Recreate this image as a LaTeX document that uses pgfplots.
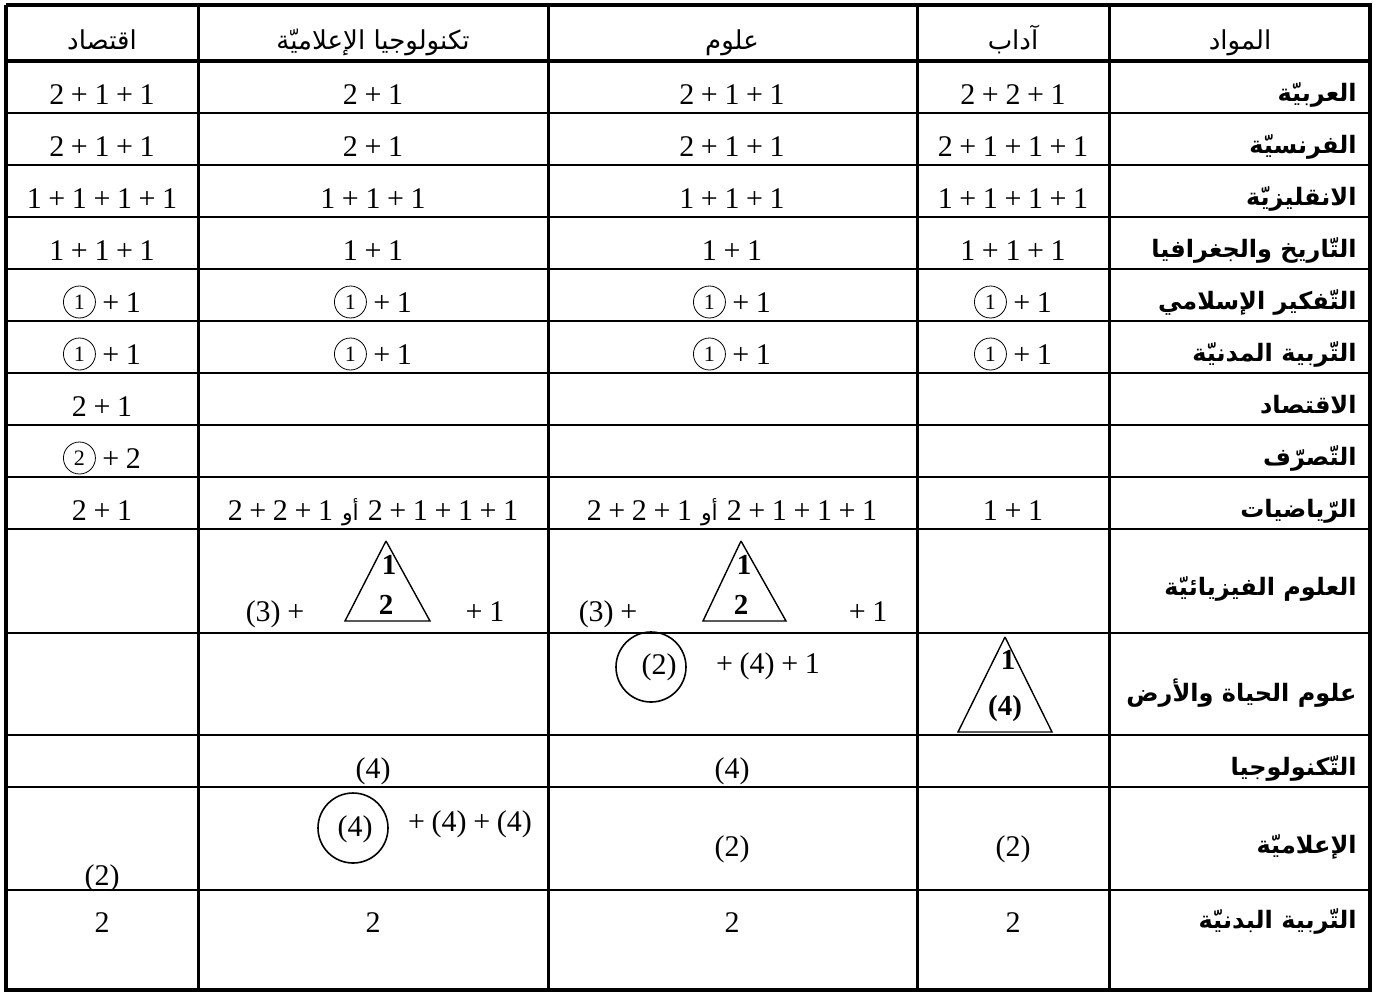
\documentclass[border=0pt]{standalone}
\usepackage{fontspec}
\usepackage{pgfplots}
\pgfplotsset{compat=1.18}
\setmainfont{Liberation Serif}
\newfontfamily\arabicfont[Script=Arabic]{DejaVu Sans}
\TeXXeTstate=1
\protected\def\p{\hspace{0.22em}+\hspace{0.22em}}
% small circled digit, drawn as in the reference (thin ring, thin figure)
\protected\def\circd#1{\tikz[baseline={([yshift=-5pt]c.center)}]\node[draw, circle, minimum size=16pt,
    inner sep=0pt, line width=0.4pt, font=\fontsize{11}{11}\selectfont](c){#1};}
\protected\def\ca{\circd{1}}
\protected\def\cb{\circd{2}}
\protected\def\ou{\hspace{0.3em}{\arabicfont\fontsize{11}{11}\selectfont\beginR أو\endR}\hspace{0.3em}}

\begin{document}
\begin{tikzpicture}
\begin{axis}[
    x=0.5pt, y=0.5pt, y dir=reverse,
    xmin=0, xmax=1381, ymin=0, ymax=997,
    hide axis, clip=false,
]
% page frame
\addplot[draw=none] coordinates {(0,0) (1381,997)};

% inner horizontal rules
\addplot[black, line width=1pt, unbounded coords=jump] coordinates {
    (6,113)(1370,113) (nan,nan)
    (6,165)(1370,165) (nan,nan)
    (6,217)(1370,217) (nan,nan)
    (6,269)(1370,269) (nan,nan)
    (6,321)(1370,321) (nan,nan)
    (6,373)(1370,373) (nan,nan)
    (6,425)(1370,425) (nan,nan)
    (6,477)(1370,477) (nan,nan)
    (6,529)(1370,529) (nan,nan)
    (6,633)(1370,633) (nan,nan)
    (6,735)(1370,735) (nan,nan)
    (6,787)(1370,787) (nan,nan)
    (6,890)(1370,890)
};
% header rule and column rules
\addplot[black, line width=1.8pt] coordinates {(6,61)(1370,61)};
\addplot[black, line width=1.5pt, unbounded coords=jump] coordinates {
    (198,5)(198,990) (nan,nan)
    (548,5)(548,990) (nan,nan)
    (917,5)(917,990) (nan,nan)
    (1109,5)(1109,990)
};
% outer frame
\addplot[black, line width=2pt] coordinates {(6,5)(1370,5)(1370,990)(6,990)(6,5)};

% triangles and circles
\addplot[black, line width=0.7pt] coordinates {(386,541)(345,621)(430,621)(386,541)};
\addplot[black, line width=0.7pt] coordinates {(741,541)(703,621)(786,621)(741,541)};
\addplot[black, line width=0.7pt] coordinates {(1005,637)(958,732)(1052,732)(1005,637)};
\addplot[black, only marks, mark=o, mark size=17.5pt, mark options={line width=0.8pt}]
    coordinates {(651,667) (353,828)};

% header
\addplot[draw=none, mark=none, nodes near coords={\arabicfont\pgfplotspointmeta},
    point meta=explicit symbolic,
    nodes near coords style={anchor=base, font=\fontsize{13}{13}\selectfont}]
coordinates {
    (1240,49) [\beginR المواد\endR]
    (1013,49) [\beginR آداب\endR]
    (732,49) [\beginR علوم\endR]
    (373,49) [\beginR تكنولوجيا الإعلاميّة\endR]
    (102,49) [\beginR اقتصاد\endR]
};

% row labels
\addplot[draw=none, mark=none, nodes near coords={\arabicfont\bfseries\pgfplotspointmeta},
    point meta=explicit symbolic,
    nodes near coords style={anchor=base east, inner xsep=0pt, font=\fontsize{12}{12}\selectfont}]
coordinates {
    (1357,101) [\beginR العربيّة\endR]
    (1357,153) [\beginR الفرنسيّة\endR]
    (1357,205) [\beginR الانقليزيّة\endR]
    (1357,257) [\beginR التّاريخ والجغرافيا\endR]
    (1357,309) [\beginR التّفكير الإسلامي\endR]
    (1357,361) [\beginR التّربية المدنيّة\endR]
    (1357,413) [\beginR الاقتصاد\endR]
    (1357,465) [\beginR التّصرّف\endR]
    (1357,517) [\beginR الرّياضيات\endR]
    (1357,595) [\beginR العلوم الفيزيائيّة\endR]
    (1357,701) [\beginR علوم الحياة والأرض\endR]
    (1357,775) [\beginR التّكنولوجيا\endR]
    (1357,853) [\beginR الإعلاميّة\endR]
    (1357,928) [\beginR التّربية البدنيّة\endR]
};

% cell contents
\addplot[draw=none, mark=none, nodes near coords, point meta=explicit symbolic,
    nodes near coords style={anchor=base, font=\fontsize{15}{15}\selectfont}]
coordinates {
    (102,104) [2\p 1\p 1] (373,104) [2\p 1] (732,104) [2\p 1\p 1] (1013,104) [2\p 2\p 1]
    (102,156) [2\p 1\p 1] (373,156) [2\p 1] (732,156) [2\p 1\p 1] (1013,156) [2\p 1\p 1\p 1]
    (102,208) [1\p 1\p 1\p 1] (373,208) [1\p 1\p 1] (732,208) [1\p 1\p 1] (1013,208) [1\p 1\p 1\p 1]
    (102,260) [1\p 1\p 1] (373,260) [1\p 1] (732,260) [1\p 1] (1013,260) [1\p 1\p 1]
    (102,312) [\ca\p 1] (373,312) [\ca\p 1] (732,312) [\ca\p 1] (1013,312) [\ca\p 1]
    (102,364) [\ca\p 1] (373,364) [\ca\p 1] (732,364) [\ca\p 1] (1013,364) [\ca\p 1]
    (102,416) [2\p 1]
    (102,468) [\cb\p 2]
    (102,520) [2\p 1] (373,520) [2\p 2\p 1\ou 2\p 1\p 1\p 1]
    (732,520) [2\p 2\p 1\ou 2\p 1\p 1\p 1] (1013,520) [1\p 1]
    (275,621) [(3)\hspace{0.22em}+] (485,621) [+\hspace{0.22em}1]
    (608,621) [(3)\hspace{0.22em}+] (868,621) [+\hspace{0.22em}1]
    (659,674) [(2)] (768,673) [+\hspace{0.22em}(4)\hspace{0.22em}+\hspace{0.22em}1]
    (373,778) [(4)] (732,778) [(4)]
    (355,836) [(4)] (470,831) [+\hspace{0.22em}(4)\hspace{0.22em}+\hspace{0.22em}(4)]
    (732,856) [(2)] (1013,856) [(2)] (102,885) [(2)]
    (102,932) [2] (373,932) [2] (732,932) [2] (1013,932) [2]
};

% bold numbers inside triangles
\addplot[draw=none, mark=none, nodes near coords, point meta=explicit symbolic,
    nodes near coords style={anchor=base, font=\bfseries\fontsize{14.5}{14.5}\selectfont}]
coordinates {
    (389,574) [1] (386,614) [2]
    (744,574) [1] (741,614) [2]
    (1008,669) [1] (1005,715) [(4)]
};
\end{axis}
\end{tikzpicture}
\end{document}
